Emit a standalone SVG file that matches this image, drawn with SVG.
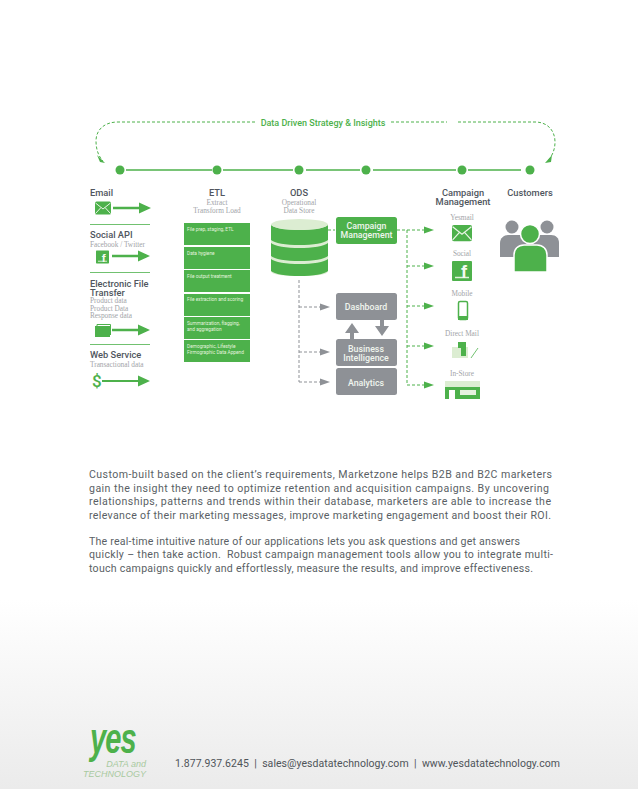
<svg xmlns="http://www.w3.org/2000/svg" width="638" height="789" viewBox="0 0 638 789">
<style>
.h{font-family:"Roboto","Liberation Sans",sans-serif;font-weight:500;font-size:9.300px;fill:#50565e}
.s{font-family:"Liberation Serif",serif;font-size:7.300px;fill:#a2a4a8}
.b{font-family:"Roboto","Liberation Sans",sans-serif;font-size:4.800px;fill:#e4f3df}
.w{font-family:"Roboto","Liberation Sans",sans-serif;font-weight:500;font-size:8.800px;fill:#f0f5ee;text-anchor:middle}
.p{font-family:"Roboto","Liberation Sans",sans-serif;font-size:10.600px;fill:#5a5f65}
.m{text-anchor:middle}
.g{fill:#4db14b}
.gr{fill:#8e9196}
.lt{fill:#dcedd2}
.dg{fill:none;stroke:#4db14b;stroke-width:1;stroke-dasharray:3 2}
.dy{fill:none;stroke:#8e9196;stroke-width:1;stroke-dasharray:3 2}
.sl{stroke:#4db14b;stroke-width:1.400;fill:none}
.rule{stroke:#4db14b;stroke-width:.8}
</style>
<defs>
<linearGradient id="bg" x1="0" y1="0" x2="0" y2="1"><stop offset="0" stop-color="#fff"/><stop offset="1" stop-color="#ebebeb"/></linearGradient>
<g id="arr"><path d="M0-1.200H26V-5.500L38 0 26 5.500V1.200H0Z" class="g"/></g>
<g id="env"><rect x="-8" y="-6.500" width="16" height="13" rx="1.500" class="g"/><path d="M-7.500-5 0 1 7.500-5M-7.500 5.500-2-.5M7.500 5.500 2-.5" fill="none" stroke="#eaf5e6" stroke-width="1"/></g>
<g id="fb"><rect x="-10" y="-10" width="20" height="20" rx="1" class="g"/><path d="M-7 6.500H7" stroke="#dff0da" stroke-width="1.500"/><text x="2" y="7" font-family="Liberation Sans,sans-serif" font-weight="700" font-size="18" fill="#f4faf2" text-anchor="middle">f</text></g>
<path id="ag" d="M0-3.500 10 0 0 3.500Z" class="g"/>
<path id="ay" d="M0-3.500 10 0 0 3.500Z" class="gr"/>
</defs>
<rect width="638" height="789" fill="#fff"/>
<rect y="600" width="638" height="189" fill="url(#bg)"/>

<g id="connectors">
<path class="dg" d="M255 122H118C104 122 96 130 96 141C96 150 99 157 103 161"/>
<path class="g" d="M97 155 105 163 100 162Z"/>
<path class="dg" d="M391 122H447M458 122H535C548 122 555 131 555 142C555 150 552 156 548 161"/>
<path class="g" d="M552 155 545 163 551 162Z"/>
<path class="sl" d="M126 170H212M223 170H293M306 170H360M373 170H456M468 170H521"/>
<circle class="g" cx="120" cy="170" r="4.500"/><circle class="g" cx="217" cy="170" r="4.500"/><circle class="g" cx="299" cy="170" r="4.500"/><circle class="g" cx="366" cy="170" r="4.500"/><circle class="g" cx="462" cy="170" r="4.500"/><circle class="g" cx="530" cy="170" r="4.500"/>
<path class="dg" d="M328 230H335M397 230H424M407 230V385"/>
<use href="#ag" x="424" y="230"/>
<path class="dg" d="M407 266H424M407 306H424M407 346H424M407 385H424"/>
<use href="#ag" x="424" y="266"/><use href="#ag" x="424" y="306"/><use href="#ag" x="424" y="346"/><use href="#ag" x="424" y="385"/>
<path class="dy" d="M299 280V382M299 307H320M299 352H320M299 382H320"/>
<use href="#ay" x="320" y="307"/><use href="#ay" x="320" y="352"/><use href="#ay" x="320" y="382"/>
<path class="gr" d="M352 323 359 333H354V339H350V333H345Z M382 336 375 326H380V320H384V326H389Z"/>
</g>

<g id="strategy-label"><text x="323" y="126" text-anchor="middle" font-family="Roboto,Liberation Sans,sans-serif" font-weight="500" font-size="9" fill="#4db14b">Data Driven Strategy &amp; Insights</text></g>

<g id="source-email"><text class="h" x="90" y="196">Email</text><use href="#env" x="103" y="208"/><use href="#arr" x="113" y="208"/></g>
<path class="rule" d="M90 224.500H150M90 272.500H150M90 344.500H150"/>
<g id="source-social"><text class="h" x="90" y="238">Social API</text><text class="s" x="90" y="247">Facebook / Twitter</text><use href="#fb" transform="translate(102.500 257) scale(.65)"/><use href="#arr" x="112" y="256"/></g>
<g id="source-eft"><text class="h" x="90" y="287">Electronic File</text><text class="h" x="90" y="296">Transfer</text><text class="s" x="90" y="303">Product data</text><text class="s" x="90" y="310.500">Product Data</text><text class="s" x="90" y="318">Response data</text>
<path class="g" d="M95 326H110V337H95Z"/><path d="M97 326V324.500H110.500V335" fill="none" stroke="#4db14b"/><use href="#arr" x="112" y="330"/></g>
<g id="source-web"><text class="h" x="90" y="358">Web Service</text><text class="s" x="90" y="367">Transactional data</text><text x="92" y="387" font-family="Roboto,Liberation Sans,sans-serif" font-size="17" fill="#4db14b" font-weight="500">$</text><path d="M102 380H138V375.500L150 381 138 386.500V382H102Z" class="g"/></g>

<g id="etl"><text class="h m" x="217" y="196">ETL</text><text class="s m" x="217" y="205">Extract</text><text class="s m" x="217" y="213">Transform Load</text>
<rect class="g" x="184" y="223" width="66" height="22"/><text class="b" x="187" y="231">File prep, staging, ETL</text>
<rect class="g" x="184" y="247" width="66" height="22"/><text class="b" x="187" y="255">Data hygiene</text>
<rect class="g" x="184" y="270" width="66" height="22"/><text class="b" x="187" y="278">File output treatment</text>
<rect class="g" x="184" y="294" width="66" height="22"/><text class="b" x="187" y="301">File extraction and scoring</text>
<rect class="g" x="184" y="317" width="66" height="22"/><text class="b" x="187" y="325">Summarization, flagging,</text><text class="b" x="187" y="331">and aggregation</text>
<rect class="g" x="184" y="340" width="66" height="22"/><text class="b" x="187" y="348">Demographic, Lifestyle</text><text class="b" x="187" y="354">Firmographic Data Append</text></g>

<g id="ods"><text class="h m" x="299" y="196">ODS</text><text class="s m" x="299" y="205">Operational</text><text class="s m" x="299" y="213">Data Store</text>
<path class="lt" d="M271 224V271C271 275 284 276 299.500 276S328 275 328 271V224Z"/>
<path class="g" d="M271 225V240C274 243 286 245 299.500 245S325 243 328 240V225C325 228 312 230 299.500 230S274 228 271 225Z"/>
<path class="g" d="M271 243V256C274 259 286 261 299.500 261S325 259 328 256V243C325 246 312 248 299.500 248S274 246 271 243Z"/>
<path class="g" d="M271 259V271C274 274 286 276 299.500 276S325 274 328 271V259C325 262 312 264 299.500 264S274 262 271 259Z"/>
<ellipse cx="299.500" cy="224.500" rx="28.500" ry="5.500" class="lt"/></g>

<g id="campaign-box"><rect class="g" x="336" y="217" width="61" height="27" rx="2.500"/><text class="w" x="366.500" y="229">Campaign</text><text class="w" x="366.500" y="238">Management</text></g>
<g id="dashboard"><rect class="gr" x="336" y="293" width="61" height="27" rx="2.500"/><text class="w" x="366" y="310">Dashboard</text></g>
<g id="bi"><rect class="gr" x="336" y="339" width="61" height="27" rx="2.500"/><text class="w" x="366" y="352">Business</text><text class="w" x="366" y="361">Intelligence</text></g>
<g id="analytics"><rect class="gr" x="336" y="368" width="61" height="27" rx="2.500"/><text class="w" x="366" y="386">Analytics</text></g>

<g id="campaign-head"><text class="h m" x="463" y="196">Campaign</text><text class="h m" x="463" y="205">Management</text></g>
<g id="yesmail"><text class="s m" x="462" y="220">Yesmail</text><use href="#env" transform="translate(462 233) scale(1.250)"/></g>
<g id="social"><text class="s m" x="462" y="256">Social</text><use href="#fb" x="462" y="271"/></g>
<g id="mobile"><text class="s m" x="462" y="296">Mobile</text><rect x="458.500" y="301.500" width="9" height="18" rx="1.500" fill="#fff" stroke="#4db14b" stroke-width="1.500"/><rect x="458" y="316" width="10" height="4" class="g"/></g>
<g id="directmail"><text class="s m" x="462" y="336">Direct Mail</text><rect x="452" y="347" width="16" height="11" class="lt"/><path class="g" d="M458 342H466V356H461V348H458Z"/><path d="M471 358 478 348" stroke="#4db14b" stroke-width=".8"/></g>
<g id="in-store"><text class="s m" x="462" y="376">In-Store</text><rect x="445" y="381" width="35" height="6" class="lt"/><rect class="g" x="445" y="387" width="35" height="12"/><rect x="449" y="390" width="6" height="9" fill="#fff"/><rect x="460" y="390" width="16" height="5" fill="#e6f2df"/></g>

<g id="customers"><text class="h m" x="530" y="196">Customers</text>
<circle class="gr" cx="512" cy="227" r="6.500"/><circle class="gr" cx="547" cy="227" r="6.500"/>
<path class="gr" d="M500 257V243C500 238 504 235 508 235H551C556 235 559 238 559 243V257Z"/>
<circle class="g" cx="530" cy="234" r="9.500" stroke="#fff" stroke-width="1.500"/>
<path class="g" stroke="#fff" stroke-width="1.500" d="M514 272V255C514 249 518 245 524 245H537C543 245 547 249 547 255V272Z"/></g>

<g id="body">
<text class="p" x="89" y="478" textLength="463" lengthAdjust="spacing">Custom-built based on the client’s requirements, Marketzone helps B2B and B2C marketers</text>
<text class="p" x="89" y="492" textLength="460" lengthAdjust="spacing">gain the insight they need to optimize retention and acquisition campaigns. By uncovering</text>
<text class="p" x="89" y="505" textLength="462" lengthAdjust="spacing">relationships, patterns and trends within their database, marketers are able to increase the</text>
<text class="p" x="89" y="519" textLength="462" lengthAdjust="spacing">relevance of their marketing messages, improve marketing engagement and boost their ROI.</text>
<text class="p" x="89" y="545" textLength="431" lengthAdjust="spacing">The real-time intuitive nature of our applications lets you ask questions and get answers</text>
<text class="p" x="89" y="558" textLength="464" lengthAdjust="spacing" style="white-space:pre">quickly – then take action.  Robust campaign management tools allow you to integrate multi-</text>
<text class="p" x="89" y="572" textLength="444" lengthAdjust="spacing">touch campaigns quickly and effortlessly, measure the results, and improve effectiveness.</text>
</g>

<g id="footer">
<text transform="translate(90 753) scale(.88 1.300)" font-family="Liberation Sans,sans-serif" font-weight="700" font-style="italic" font-size="33" fill="#4db14b" letter-spacing="-1">yes</text>
<text x="146" y="767" text-anchor="end" font-family="Liberation Sans,sans-serif" font-style="italic" font-size="9" fill="#a8c9a0">DATA and</text>
<text x="83" y="777" font-family="Liberation Sans,sans-serif" font-style="italic" font-size="9" fill="#a8c9a0">TECHNOLOGY</text>
<text x="175" y="767" font-family="Roboto,Liberation Sans,sans-serif" font-size="10.500" fill="#4f5459" letter-spacing=".05" style="white-space:pre">1.877.937.6245  |  sales@yesdatatechnology.com  |  www.yesdatatechnology.com</text>
</g>
</svg>
